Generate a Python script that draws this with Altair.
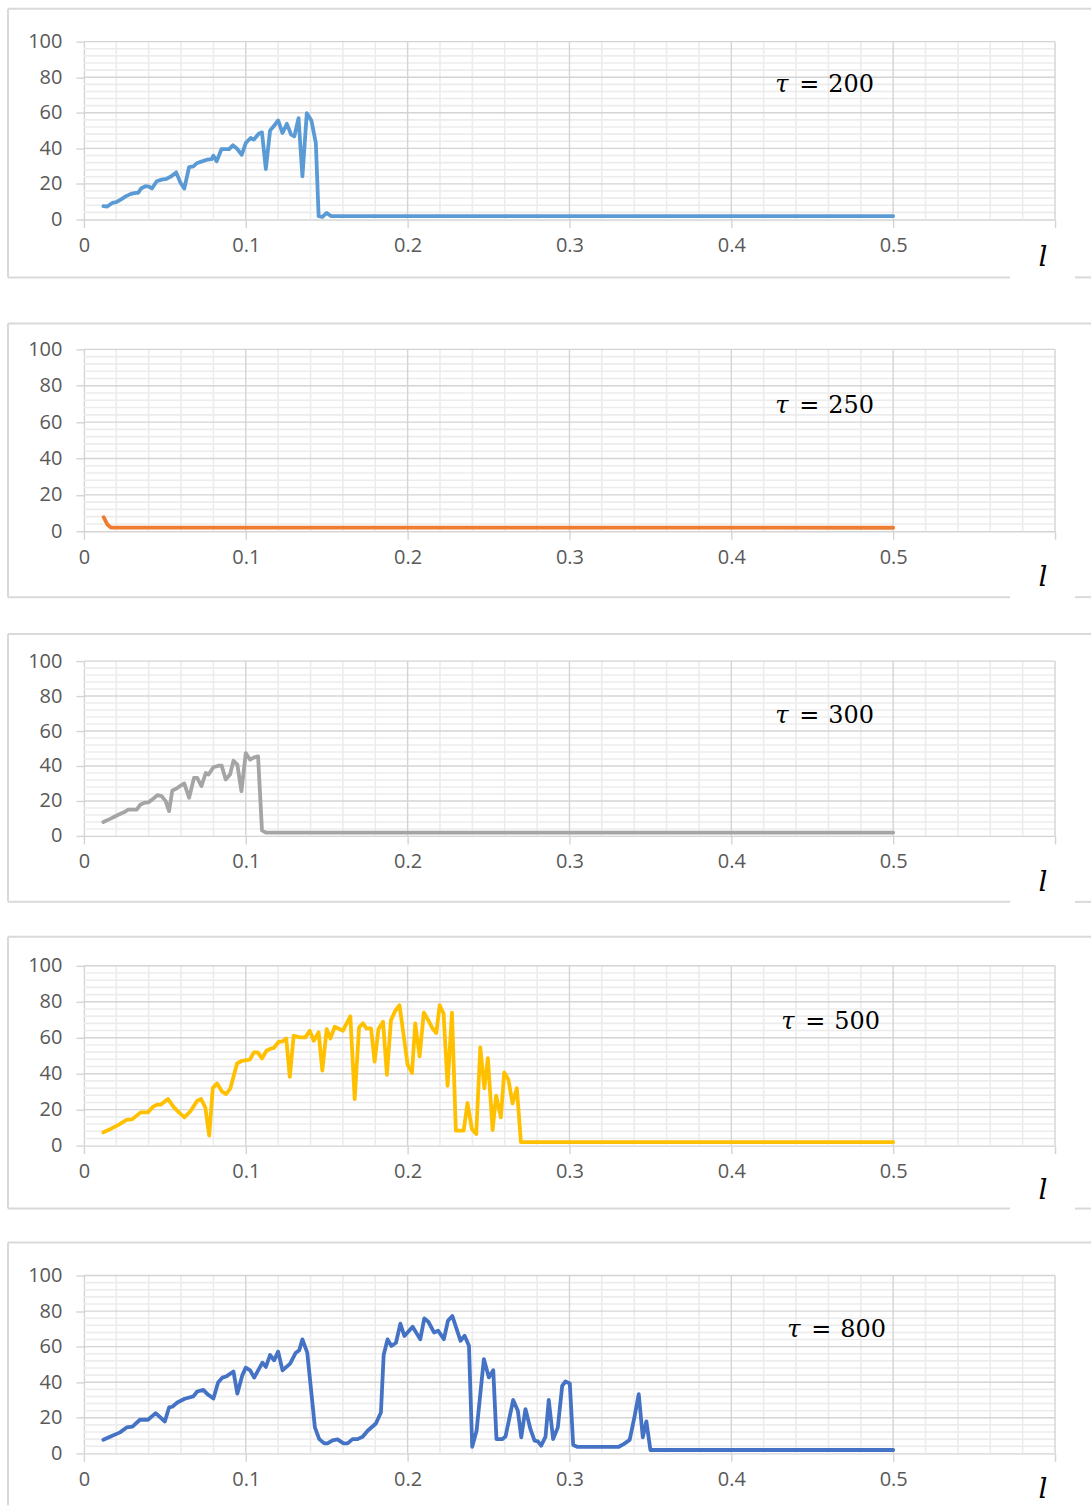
import altair as alt
import pandas as pd

# Optimal value vs. l for five values of tau; each series is a list of (l, value) vertices.
tau200 = [(0.012, 7.5), (0.0144, 7.3), (0.0175, 9.3), (0.020, 9.7), (0.0227, 11.2), (0.0258, 13),
          (0.029, 14.4), (0.032, 15), (0.0335, 15), (0.0355, 17.6), (0.038, 18.7), (0.0402, 18.5),
          (0.042, 17.4), (0.045, 21.5), (0.048, 22.4), (0.051, 22.8), (0.054, 24.3), (0.057, 26.5),
          (0.0595, 21), (0.062, 17.4), (0.065, 29.5), (0.0676, 29.9), (0.070, 31.8), (0.073, 32.7),
          (0.076, 33.6), (0.0789, 34), (0.080, 35.9), (0.082, 32.7), (0.085, 39.6), (0.0897, 39.6),
          (0.092, 41.7), (0.0948, 39.6), (0.0975, 36.4), (0.100, 43), (0.103, 45.8), (0.105, 44.9),
          (0.108, 48.2), (0.110, 49), (0.1124, 28.4), (0.115, 50), (0.1175, 52.7), (0.120, 55.7),
          (0.1227, 48.6), (0.1254, 53.8), (0.128, 47.7), (0.130, 46.7), (0.1326, 57), (0.135, 24.3),
          (0.1377, 59.8), (0.1406, 55.5), (0.1433, 43), (0.145, 1.9), (0.1474, 1.5), (0.150, 3.7),
          (0.1526, 1.9), (0.5, 1.9)]

tau250 = [(0.0122, 7.7), (0.0146, 3.5), (0.0167, 2.0), (0.5, 1.9)]

tau300 = [(0.012, 8), (0.0165, 9.9), (0.0206, 11.8), (0.0247, 13.5), (0.0274, 15), (0.0326, 15),
          (0.035, 18), (0.0375, 19), (0.0398, 19.2), (0.0423, 20.9), (0.0454, 23.3), (0.048, 22.8),
          (0.0505, 19.9), (0.0526, 14.2), (0.0546, 26), (0.0573, 27.1), (0.0598, 28.8), (0.062, 30),
          (0.065, 21.8), (0.068, 33.2), (0.070, 33.2), (0.0726, 28.5), (0.0753, 36), (0.077, 35.1),
          (0.080, 39.3), (0.0835, 40.2), (0.0851, 40.2), (0.0876, 32.3), (0.0903, 35.1), (0.0924, 43),
          (0.0948, 40.8), (0.0973, 25.6), (0.100, 47.4), (0.1027, 43.6), (0.1052, 44.9), (0.1076, 45.5),
          (0.110, 3.2), (0.1124, 1.9), (0.5, 1.9)]

tau500 = [(0.012, 7.4), (0.0165, 9.3), (0.0216, 11.7), (0.0263, 14.3), (0.0298, 14.6), (0.035, 18.5),
          (0.0395, 18.5), (0.0428, 21.7), (0.0453, 22.8), (0.0474, 22.8), (0.052, 25.9), (0.0556, 21.3),
          (0.0587, 18.5), (0.0621, 15.7), (0.0658, 19.1), (0.070, 25), (0.0724, 25.9), (0.075, 21.3),
          (0.0774, 5.6), (0.0796, 32), (0.0823, 34.6), (0.0854, 30), (0.0878, 28.7), (0.0905, 31.9),
          (0.0946, 45.7), (0.0977, 47.2), (0.1025, 47.8), (0.105, 51.9), (0.1074, 51.9), (0.110, 48.5),
          (0.1128, 52.8), (0.1156, 54), (0.1173, 54.3), (0.1204, 57.8), (0.1224, 57.8), (0.125, 59.6),
          (0.1272, 38.3), (0.1296, 61.1), (0.1333, 60.2), (0.1368, 60.2), (0.1395, 63.9), (0.142, 58.3),
          (0.145, 63), (0.1473, 41.7), (0.150, 64.8), (0.1523, 59.6), (0.155, 66.1), (0.160, 63.9),
          (0.1646, 71.9), (0.1673, 25.9), (0.170, 65.7), (0.1724, 68.1), (0.1745, 65.2), (0.1774, 65.2),
          (0.1796, 46.7), (0.182, 64.8), (0.1848, 68.9), (0.1872, 39.4), (0.1897, 69.8), (0.1924, 75),
          (0.195, 78.1), (0.200, 45), (0.2027, 40.4), (0.2047, 68), (0.2074, 49.6), (0.210, 74),
          (0.213, 69.4), (0.2156, 64.8), (0.2177, 62.6), (0.2198, 78.1), (0.2222, 73.5), (0.2247, 33.3),
          (0.2274, 74), (0.2298, 8.3), (0.2346, 8.3), (0.237, 23.7), (0.2397, 9.3), (0.2424, 6.5),
          (0.2449, 54.6), (0.2474, 31.9), (0.2496, 48.7), (0.2525, 8.7), (0.2547, 27.8), (0.2576, 15.7),
          (0.2597, 40.7), (0.2623, 36.7), (0.2648, 23.5), (0.2675, 31.9), (0.270, 1.9), (0.5, 1.9)]

tau800 = [(0.012, 7.7), (0.0165, 9.5), (0.0223, 11.8), (0.0264, 14.6), (0.030, 15), (0.0346, 18.9),
          (0.0396, 18.9), (0.0443, 22.6), (0.050, 17.9), (0.0526, 25.8), (0.0546, 26.2), (0.0577, 28.6),
          (0.0623, 30.7), (0.0676, 32), (0.070, 34.8), (0.0738, 35.7), (0.0763, 33.3), (0.080, 30.8),
          (0.0829, 39.8), (0.0856, 42.6), (0.0882, 43.4), (0.0924, 46), (0.0948, 33.6), (0.0979, 44),
          (0.100, 48.2), (0.1027, 46.7), (0.1052, 42.6), (0.1103, 51), (0.1124, 48.6), (0.115, 55.3),
          (0.1175, 52.3), (0.120, 57.2), (0.1227, 46.7), (0.1274, 50.5), (0.1309, 56.6), (0.133, 57.9),
          (0.135, 64.1), (0.138, 56.6), (0.1427, 14.6), (0.1454, 8), (0.1485, 5.6), (0.1505, 5.6),
          (0.1536, 7.3), (0.1567, 7.9), (0.1604, 5.6), (0.1629, 5.6), (0.166, 8), (0.1691, 8),
          (0.1722, 9.3), (0.1753, 12.7), (0.1804, 16.8), (0.1835, 23), (0.1852, 55.3), (0.1876, 64.1),
          (0.190, 60.4), (0.1928, 62.2), (0.1955, 72.9), (0.198, 66), (0.2031, 71.2), (0.2078, 64.1),
          (0.2103, 75.9), (0.2128, 74), (0.2163, 68), (0.2188, 69), (0.2224, 64.2), (0.2249, 74.5),
          (0.2276, 77.3), (0.2327, 63.3), (0.2352, 66.1), (0.2379, 60.5), (0.2399, 3.7), (0.2426, 12.7),
          (0.2471, 53), (0.2502, 42.7), (0.2529, 46.8), (0.2549, 8), (0.2584, 8), (0.2605, 9.5),
          (0.2652, 30), (0.2681, 24), (0.2702, 9), (0.2728, 24.9), (0.2759, 13.6), (0.2784, 7.1),
          (0.2805, 6.7), (0.2825, 4.3), (0.2852, 9.4), (0.2872, 30), (0.2899, 8), (0.2928, 14.6),
          (0.2955, 38), (0.2975, 40.4), (0.3002, 39.3), (0.3023, 4.7), (0.3047, 3.7), (0.3305, 3.7),
          (0.3335, 5.2), (0.3372, 7.6), (0.3401, 20.2), (0.3428, 33.3), (0.3453, 9), (0.3475, 18),
          (0.350, 1.9), (0.5, 1.9)]

tau_values = ["200", "250", "300", "500", "800"]
line_colors = ["#5b9bd5", "#ed7d31", "#a5a5a5", "#ffc000", "#4472c4"]

# Gridline / tick positions
x_major = [0, 0.1, 0.2, 0.3, 0.4, 0.5, 0.6]
x_minor = [round(i * 0.02, 2) for i in range(1, 30) if i % 5]
y_major = [0, 20, 40, 60, 80, 100]
y_minor = [i * 4 for i in range(1, 25) if i % 5]

GRID_MAJOR = "#d4d4d4"
GRID_MINOR = "#ececec"
FRAME = "#d9d9d9"
PLOT_W = 972

# per panel layout: plot height, frame top/bottom, label offsets (px, relative to plot)
layout = [
    dict(h=178, box_top=-33, box_bottom=236, tau_y=43, l_y=217, tau_dx=0),
    dict(h=182, box_top=-26, box_bottom=248, tau_y=57, l_y=229, tau_dx=0),
    dict(h=175, box_top=-27, box_bottom=241, tau_y=55, l_y=222, tau_dx=0),
    dict(h=180, box_top=-29, box_bottom=243, tau_y=56, l_y=225, tau_dx=6),
    dict(h=178, box_top=-33, box_bottom=None, tau_y=55, l_y=215, tau_dx=12),
]

one = pd.DataFrame({"k": [0]})

x_scale = alt.Scale(domain=[0, 0.6], nice=False, zero=False)
y_scale = alt.Scale(domain=[0, 100], nice=False, zero=False)
x_axis = alt.Axis(values=x_major, grid=False, title=None, labelFlush=False,
                  labelExpr="datum.value > 0.55 ? '' : format(datum.value, '.1~f')",
                  labelPadding=8)
y_axis = alt.Axis(values=y_major, grid=False, title=None, labelFlush=False, labelPadding=14)


def xenc(field):
    return alt.X(field, type="quantitative", scale=x_scale, axis=x_axis)


def yenc(field):
    return alt.Y(field, type="quantitative", scale=y_scale, axis=y_axis)


def panel(points, color, tau, lay):
    df = pd.DataFrame(points, columns=["l", "v"])

    minor_x = alt.Chart(pd.DataFrame({"l": x_minor})).mark_rule(
        color=GRID_MINOR, strokeWidth=1.6).encode(x=xenc("l"))
    minor_y = alt.Chart(pd.DataFrame({"v": y_minor})).mark_rule(
        color=GRID_MINOR, strokeWidth=1.6).encode(y=yenc("v"))
    major_x = alt.Chart(pd.DataFrame({"l": x_major[1:]})).mark_rule(
        color=GRID_MAJOR, strokeWidth=1.4).encode(x=xenc("l"))
    major_y = alt.Chart(pd.DataFrame({"v": y_major[1:]})).mark_rule(
        color=GRID_MAJOR, strokeWidth=1.4).encode(y=yenc("v"))

    line = alt.Chart(df).mark_line(
        color=color, strokeWidth=3.8, strokeJoin="round", strokeCap="round"
    ).encode(x=xenc("l"), y=yenc("v"))

    frame = alt.Chart(one).mark_rule(color=FRAME, strokeWidth=2)
    layers = [minor_x, minor_y, major_x, major_y, line,
              frame.encode(x=alt.value(-76), x2=alt.value(PLOT_W + 36),
                           y=alt.value(lay["box_top"]))]
    left_end = lay["box_bottom"] if lay["box_bottom"] is not None else lay["h"] + 52
    layers.append(frame.encode(x=alt.value(-76), y=alt.value(lay["box_top"]),
                               y2=alt.value(left_end)))
    if lay["box_bottom"] is not None:
        layers.append(frame.encode(x=alt.value(-76), x2=alt.value(927),
                                   y=alt.value(lay["box_bottom"])))
        layers.append(frame.encode(x=alt.value(992), x2=alt.value(PLOT_W + 36),
                                   y=alt.value(lay["box_bottom"])))

    txt = dict(font="DejaVu Serif", fontSize=24, color="#000000", baseline="middle", align="left")
    dx = lay["tau_dx"]
    layers.append(alt.Chart(one).mark_text(fontStyle="italic", **txt).encode(
        x=alt.value(692 + dx), y=alt.value(lay["tau_y"]), text=alt.value("τ")))
    layers.append(alt.Chart(one).mark_text(**txt).encode(
        x=alt.value(716 + dx), y=alt.value(lay["tau_y"]), text=alt.value("=")))
    layers.append(alt.Chart(one).mark_text(**txt).encode(
        x=alt.value(745 + dx), y=alt.value(lay["tau_y"]), text=alt.value(tau)))
    layers.append(alt.Chart(one).mark_text(
        font="DejaVu Serif", fontSize=28, fontStyle="italic", color="#000000",
        align="center", baseline="middle").encode(
        x=alt.value(960), y=alt.value(lay["l_y"]), text=alt.value("l")))

    return alt.layer(*layers).properties(width=PLOT_W, height=lay["h"])


series = [tau200, tau250, tau300, tau500, tau800]
panels = [panel(s, c, t, lay) for s, c, t, lay in zip(series, line_colors, tau_values, layout)]

chart = alt.vconcat(*panels, spacing=130, bounds="flush").properties(
    padding={"left": 7, "top": 7, "right": 0, "bottom": 0},
    background="white",
).configure_view(strokeWidth=0).configure_axis(
    domainColor=GRID_MAJOR, domainWidth=1.4,
    tickColor=GRID_MAJOR, tickWidth=1.4, tickSize=8,
    labelFont="Open Sans", labelFontSize=20, labelColor="#595959",
)

chart.save("out.html", embed_options={"renderer": "svg", "actions": False})
